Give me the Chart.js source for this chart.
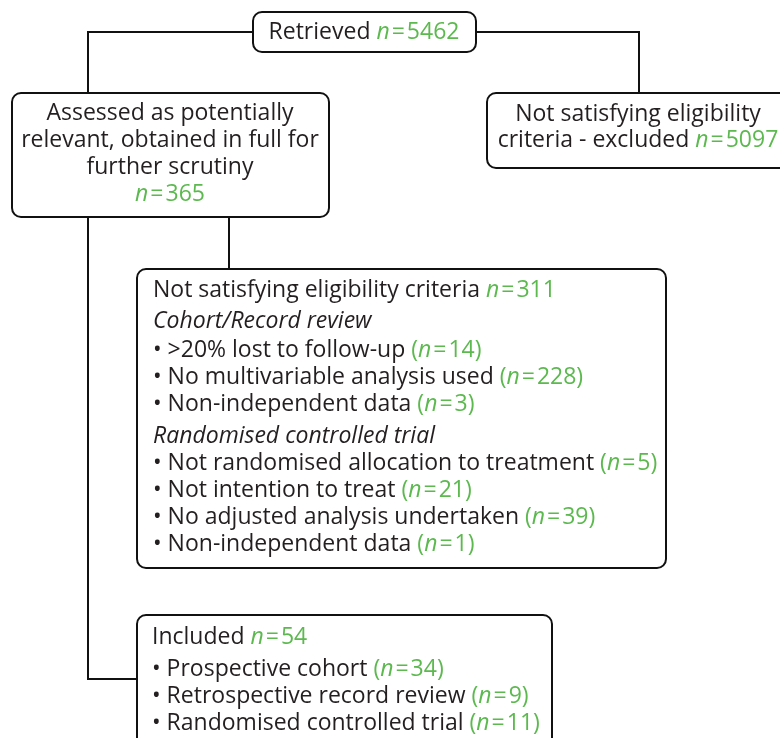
<!DOCTYPE html>
<html>
<head>
<meta charset="utf-8">
<script src="https://cdn.jsdelivr.net/npm/chart.js@4.4.1/dist/chart.umd.min.js"></script>
<style>
  html, body { margin: 0; padding: 0; background: #fff; }
  #wrap { width: 780px; height: 738px; }
</style>
</head>
<body>
<div id="wrap"><canvas id="flow"></canvas></div>
<script>
// counts
var retrievedN = 5462;
var excludedN = 5097;
var assessedN = 365;
var notEligibleN = 311;
var includedN = 54;

var cohortReasons = ['>20% lost to follow-up', 'No multivariable analysis used', 'Non-independent data'];
var cohortCounts = [14, 228, 3];

var rctReasons = ['Not randomised allocation to treatment', 'Not intention to treat',
                  'No adjusted analysis undertaken', 'Non-independent data'];
var rctCounts = [5, 21, 39, 1];

var includedTypes = ['Prospective cohort', 'Retrospective record review', 'Randomised controlled trial'];
var includedCounts = [34, 9, 11];

var DARK = '#231f20';
var GREEN = '#5cb94f';
var FONT = '"Open Sans", "Noto Sans", sans-serif';
var SIZE = 23;

// pieces of one text line: {t: text, g: green?, i: italic?}
function nPart(n, paren) {
  var p = [];
  if (paren) p.push({ t: '(', g: true });
  p.push({ t: 'n', g: true, i: true });
  p.push({ t: '=', g: true, pad: 2 });
  p.push({ t: String(n), g: true });
  if (paren) p.push({ t: ')', g: true });
  return p;
}
function plain(t, italic) { return [{ t: t, i: !!italic }]; }
function withN(t, n, paren) { return [{ t: t + ' ' }].concat(nPart(n, paren)); }

function fontOf(seg) { return (seg.i ? 'italic ' : '') + SIZE + 'px ' + FONT; }

function lineWidth(ctx, segs) {
  var w = 0;
  segs.forEach(function(s) {
    ctx.font = fontOf(s);
    w += ctx.measureText(s.t).width + 2 * (s.pad || 0);
  });
  return w;
}

function drawLine(ctx, x, y, segs, center) {
  var cx = center ? x - lineWidth(ctx, segs) / 2 : x;
  ctx.textBaseline = 'middle';
  ctx.textAlign = 'left';
  segs.forEach(function(s) {
    ctx.font = fontOf(s);
    ctx.fillStyle = s.g ? GREEN : DARK;
    cx += s.pad || 0;
    ctx.fillText(s.t, cx, y);
    cx += ctx.measureText(s.t).width + (s.pad || 0);
  });
}

function roundBox(ctx, x0, y0, x1, y1, r) {
  ctx.beginPath();
  ctx.moveTo(x0 + r, y0);
  ctx.lineTo(x1 - r, y0);
  ctx.arcTo(x1, y0, x1, y0 + r, r);
  ctx.lineTo(x1, y1 - r);
  ctx.arcTo(x1, y1, x1 - r, y1, r);
  ctx.lineTo(x0 + r, y1);
  ctx.arcTo(x0, y1, x0, y1 - r, r);
  ctx.lineTo(x0, y0 + r);
  ctx.arcTo(x0, y0, x0 + r, y0, r);
  ctx.closePath();
  ctx.fillStyle = '#fff';
  ctx.fill();
  ctx.stroke();
}

// text content of each box, built from the arrays above
var boxes = [
  { rect: [253, 12, 476, 52], cx: 364, lines: [[32, withN('Retrieved', retrievedN)]] },
  { rect: [12, 93, 329, 217], cx: 170, lines: [
      [113, plain('Assessed as potentially')],
      [140, plain('relevant, obtained in full for')],
      [167, plain('further scrutiny')],
      [194, nPart(assessedN)]
  ] },
  { rect: [487, 93, 792, 168], cx: 638, lines: [
      [114, plain('Not satisfying eligibility')],
      [140, withN('criteria - excluded', excludedN)]
  ] },
  { rect: [137, 269, 666, 568], left: 153, lines: [] },
  { rect: [137, 615, 552, 760], left: 152, lines: [] }
];

var b4 = boxes[3].lines;
b4.push([290, withN('Not satisfying eligibility criteria', notEligibleN)]);
b4.push([321, plain('Cohort/Record review', true)]);
cohortReasons.forEach(function(r, k) { b4.push([350 + 27 * k, withN('\u2022 ' + r, cohortCounts[k], true)]); });
b4.push([436, plain('Randomised controlled trial', true)]);
rctReasons.forEach(function(r, k) { b4.push([463 + 27 * k, withN('\u2022 ' + r, rctCounts[k], true)]); });

var b5 = boxes[4].lines;
b5.push([637, withN('Included', includedN)]);
includedTypes.forEach(function(r, k) { b5.push([669 + 27 * k, withN('\u2022 ' + r, includedCounts[k], true)]); });

// connector paths
var links = [
  [[253, 32], [88, 32], [88, 93]],
  [[476, 32], [639, 32], [639, 93]],
  [[88, 217], [88, 679], [137, 679]],
  [[229, 217], [229, 269]]
];

var flowPlugin = {
  id: 'flow',
  afterDraw: function(chart) {
    var ctx = chart.ctx, sx = chart.scales.x, sy = chart.scales.y;
    function px(v) { return sx.getPixelForValue(v); }
    function py(v) { return sy.getPixelForValue(v); }
    ctx.save();
    ctx.strokeStyle = '#111';
    ctx.lineWidth = 2;
    links.forEach(function(path) {
      ctx.beginPath();
      path.forEach(function(p, k) {
        if (k === 0) ctx.moveTo(px(p[0]), py(p[1])); else ctx.lineTo(px(p[0]), py(p[1]));
      });
      ctx.stroke();
    });
    boxes.forEach(function(b) {
      ctx.strokeStyle = '#111';
      roundBox(ctx, px(b.rect[0]), py(b.rect[1]), px(b.rect[2]), py(b.rect[3]), 9);
      b.lines.forEach(function(l) {
        if (b.cx !== undefined) drawLine(ctx, px(b.cx), py(l[0]), l[1], true);
        else drawLine(ctx, px(b.left), py(l[0]), l[1], false);
      });
    });
    ctx.restore();
  }
};

new Chart(document.getElementById('flow'), {
  type: 'scatter',
  data: { datasets: [{ data: [], pointRadius: 0 }] },
  options: {
    responsive: true,
    maintainAspectRatio: false,
    animation: false,
    layout: { padding: 0 },
    plugins: { legend: { display: false }, tooltip: { enabled: false } },
    scales: {
      x: { type: 'linear', min: 0, max: 780, display: false },
      y: { type: 'linear', min: 0, max: 738, reverse: true, display: false }
    }
  },
  plugins: [flowPlugin]
});
</script>
</body>
</html>
